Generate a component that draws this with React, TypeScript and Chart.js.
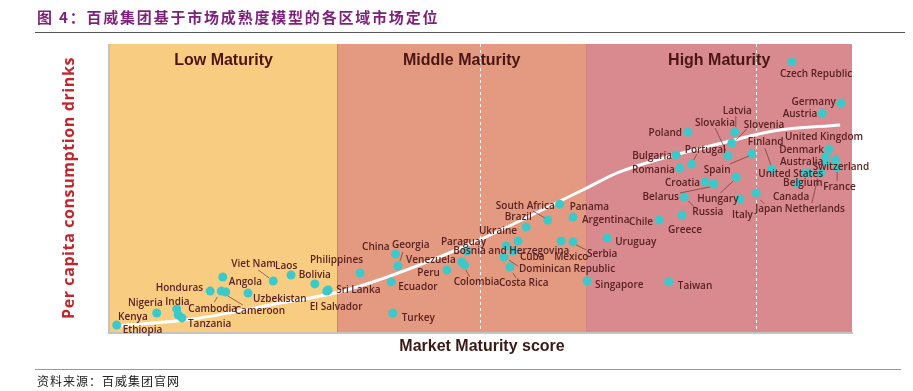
import React, { useEffect, useRef } from "react";
import { Chart, registerables } from "chart.js";

Chart.register(...registerables);

// ---------- data ----------
const countries = [
  "Ethiopia", "Kenya", "Nigeria", "India", "Tanzania", "Honduras", "Cambodia", "Cameroon",
  "Angola", "Uzbekistan", "Viet Nam", "Laos", "Bolivia", "Sri Lanka", "El Salvador",
  "Philippines", "China", "Georgia", "Ecuador", "Turkey", "Peru", "Venezuela", "Colombia",
  "Paraguay", "Bosnia and Herzegovina", "Cuba", "Dominican Republic", "Costa Rica", "Ukraine",
  "Brazil", "South Africa", "Panama", "Argentina", "Mexico", "Serbia",
  "Uruguay", "Singapore", "Taiwan", "Chile", "Greece", "Russia", "Croatia", "Belarus",
  "Hungary", "Italy", "Spain", "Finland", "Japan", "United States", "Belgium", "Canada",
  "Netherlands", "France", "Switzerland", "Australia", "Denmark", "United Kingdom",
  "Germany", "Austria", "Czech Republic", "Latvia", "Slovenia", "Slovakia", "Poland",
  "Portugal", "Bulgaria", "Romania",
];

const maturityScore = [
  0.9, 6.3, 9.0, 9.2, 9.7, 13.5, 15.0, 15.6,
  15.2, 18.6, 22.0, 24.4, 27.6, 29.4, 29.2,
  33.7, 38.5, 38.8, 37.9, 38.1, 45.4, 47.4, 47.8,
  48.1, 53.4, 54.3, 53.1, 53.9, 55.0,
  56.1, 59.0, 60.6, 62.4, 60.8, 62.4,
  67.0, 64.3, 75.3, 74.0, 77.1, 77.4, 80.2, 81.4,
  84.4, 84.9, 86.5, 89.2, 87.1, 93.7, 92.6, 94.2,
  95.8, 98.0, 97.8, 96.4, 96.5, 96.9,
  98.5, 96.0, 91.9, 84.2, 83.8, 83.3, 77.9,
  78.4, 76.3, 76.8,
];

const perCapitaDrinks = [
  2.4, 6.6, 8.0, 5.9, 4.9, 14.2, 14.2, 13.9,
  19.1, 13.5, 17.7, 19.8, 16.7, 14.6, 14.2,
  20.5, 27.1, 22.9, 17.4, 6.6, 21.5, 24.3, 23.3,
  28.1, 29.9, 28.1, 26.0, 22.6, 31.6,
  36.5, 38.9, 44.4, 39.9, 31.6, 31.3,
  32.6, 17.7, 17.4, 38.9, 40.6, 46.9, 52.1, 51.4,
  53.8, 46.2, 61.8, 56.6, 48.3, 55.2, 51.7, 55.2,
  55.2, 57.3, 59.7, 59.0, 60.8, 63.5,
  79.5, 76.0, 93.8, 69.4, 65.6, 61.1, 69.4,
  58.3, 61.5, 56.9,
];

const trendScore = [0.7, 11.2, 21.6, 31.9, 47.6, 63.7, 68.7, 83.6, 89.4, 98.4];
const trendDrinks = [2.1, 4.5, 9.4, 14.6, 29.5, 49.3, 55.6, 66.3, 69.8, 71.9];

const zoneNames = ["Low Maturity", "Middle Maturity", "High Maturity"];
const zoneEdges = [0, 30.6, 64.2, 100];
const dashedScores = [49.9, 87.1];

// ---------- styles / layout ----------
const zoneColors = ["#F8CD82", "#E49A80", "#D88A8F"];
const dotColor = "#3CC9C9";
const labelColor = "#5A2122";

type Lay = [number, number, CanvasTextAlign, number[]?];
const labelLayout: Record<string, Lay> = {
  "Ethiopia": [6, 5, "left"],
  "Kenya": [-9, 4, "right"],
  "Nigeria": [-14, -6, "right"],
  "India": [-13, -13, "left"],
  "Tanzania": [6, 6, "left"],
  "Honduras": [-7, -3, "right"],
  "Cambodia": [-33, 18, "left", [-4, 6, -7, 11]],
  "Cameroon": [9, 19, "left", [2, 4, 17, 13]],
  "Angola": [6, 5, "left"],
  "Uzbekistan": [5, 6, "left"],
  "Viet Nam": [-42, -17, "left", [-15, -11, -4, -3]],
  "Laos": [-16, -9, "left"],
  "Bolivia": [0, -9, "center"],
  "Sri Lanka": [8, 0, "left"],
  "El Salvador": [-17, 16, "left"],
  "Philippines": [3, -13, "right"],
  "China": [-6, -7, "right"],
  "Georgia": [-6, -21, "left", [5, -14, 2, -5]],
  "Ecuador": [7, 5, "left"],
  "Turkey": [9, 5, "left"],
  "Peru": [-7, 3, "right"],
  "Venezuela": [-6, -2, "right"],
  "Colombia": [-11, 17, "left", [1, 5, 5, 12]],
  "Paraguay": [-26, -9, "left"],
  "Bosnia and Herzegovina": [-53, 5, "left"],
  "Cuba": [7, 6, "left"],
  "Dominican Republic": [15, 12, "left", [5, 3, 14, 9]],
  "Costa Rica": [-11, 16, "left", [3, 6, 6, 11]],
  "Ukraine": [-1, -10, "right"],
  "Brazil": [-8, -10, "center"],
  "South Africa": [-52, -14, "left", [-15, -9, -3, -2]],
  "Panama": [10, 3, "left"],
  "Argentina": [9, 3, "left"],
  "Mexico": [-7, 16, "left"],
  "Serbia": [14, 12, "left", [3, 3, 13, 8]],
  "Uruguay": [8, 4, "left"],
  "Singapore": [8, 4, "left"],
  "Taiwan": [9, 4, "left"],
  "Chile": [-6, 2, "right"],
  "Greece": [-14, 15, "left"],
  "Russia": [8, 15, "left", [4, 4, 10, 10]],
  "Croatia": [-5, 1, "right"],
  "Belarus": [-35, 13, "right", [-34, 9, -4, 3]],
  "Hungary": [-39, 22, "left", [-16, 16, -3, 4]],
  "Italy": [-8, 16, "left"],
  "Spain": [-48, 16, "left", [-22, 10, -3, 2]],
  "Finland": [-24, -27, "left", [-7, -21, -1, -4]],
  "Japan": [-1, 16, "left", [4, 7, 8, 11]],
  "United States": [-47, 1, "left"],
  "Belgium": [-14, 0, "left"],
  "Canada": [-36, 24, "left"],
  "Netherlands": [-36, 36, "left", [-3, 5, -9, 30]],
  "France": [-14, 20, "left", [0, 5, 0, 14]],
  "Switzerland": [-23, 7, "left"],
  "Australia": [-2, 0, "right"],
  "Denmark": [-2, -7, "right"],
  "United Kingdom": [-44, -12, "left"],
  "Germany": [-5, -1, "right"],
  "Austria": [-5, 1, "right"],
  "Czech Republic": [-12, 12, "left"],
  "Latvia": [-12, -21, "left", [1, -16, 1, -5]],
  "Slovenia": [12, -18, "left", [15, -14, 4, -3]],
  "Slovakia": [-33, -33, "left", [-13, -28, -2, -5]],
  "Poland": [-6, 1, "right"],
  "Portugal": [-7, -14, "left", [5, -10, 2, -4]],
  "Bulgaria": [-4, 1, "right"],
  "Romania": [-5, 2, "right"],
};

const zonesPlugin = {
  id: "zones",
  beforeDatasetsDraw(chart: any) {
    const { ctx, chartArea: a, scales } = chart;
    const xs = scales.x;
    ctx.save();
    zoneNames.forEach((_, i) => {
      const x0 = xs.getPixelForValue(zoneEdges[i]);
      const x1 = xs.getPixelForValue(zoneEdges[i + 1]);
      ctx.fillStyle = zoneColors[i];
      ctx.fillRect(x0, a.top, x1 - x0, a.bottom - a.top);
    });
    // zone boundaries
    ctx.strokeStyle = "rgba(200,100,100,0.55)";
    ctx.lineWidth = 1;
    for (let i = 1; i < zoneEdges.length - 1; i++) {
      const xp = Math.round(xs.getPixelForValue(zoneEdges[i])) + 0.5;
      ctx.beginPath();
      ctx.moveTo(xp, a.top);
      ctx.lineTo(xp, a.bottom);
      ctx.stroke();
    }
    // dashed dividers
    ctx.setLineDash([3, 3]);
    ctx.strokeStyle = "rgba(255,255,255,0.9)";
    dashedScores.forEach((v) => {
      const xp = Math.round(xs.getPixelForValue(v)) + 0.5;
      ctx.beginPath();
      ctx.moveTo(xp, a.top);
      ctx.lineTo(xp, a.bottom);
      ctx.stroke();
    });
    ctx.setLineDash([]);
    // border (left & bottom)
    ctx.strokeStyle = "#C4C4C4";
    ctx.lineWidth = 2;
    ctx.beginPath();
    ctx.moveTo(a.left - 1, a.top);
    ctx.lineTo(a.left - 1, a.bottom + 1);
    ctx.lineTo(a.right + 1, a.bottom + 1);
    ctx.stroke();
    // zone titles
    ctx.fillStyle = "#4A1512";
    ctx.font = "bold 16px 'Liberation Sans', Arial, sans-serif";
    ctx.textAlign = "center";
    ctx.textBaseline = "middle";
    zoneNames.forEach((n, i) => {
      const x0 = xs.getPixelForValue(zoneEdges[i]);
      const x1 = xs.getPixelForValue(zoneEdges[i + 1]);
      ctx.fillText(n, (x0 + x1) / 2, a.top + 17);
    });
    ctx.restore();
  },
};

const labelsPlugin = {
  id: "countryLabels",
  afterDatasetsDraw(chart: any) {
    const { ctx } = chart;
    const meta = chart.getDatasetMeta(0);
    ctx.save();
    ctx.strokeStyle = "#6B3A32";
    ctx.lineWidth = 0.7;
    meta.data.forEach((pt: any, i: number) => {
      const lay = labelLayout[countries[i]];
      if (!lay || !lay[3]) return;
      const l = lay[3];
      ctx.beginPath();
      ctx.moveTo(pt.x + l[0], pt.y + l[1]);
      ctx.lineTo(pt.x + l[2], pt.y + l[3]);
      ctx.stroke();
    });
    ctx.fillStyle = labelColor;
    ctx.font = "600 10px 'Open Sans', sans-serif";
    ctx.textBaseline = "middle";
    meta.data.forEach((pt: any, i: number) => {
      const lay = labelLayout[countries[i]] || [6, 0, "left"];
      ctx.textAlign = lay[2];
      ctx.fillText(countries[i], pt.x + lay[0], pt.y + lay[1]);
    });
    ctx.restore();
  },
};

export default function App() {
  const ref = useRef<HTMLCanvasElement>(null);

  useEffect(() => {
    if (!ref.current) return;
    const chart = new Chart(ref.current, {
      type: "scatter",
      data: {
        datasets: [
          {
            label: "Markets",
            data: countries.map((_, i) => ({ x: maturityScore[i], y: perCapitaDrinks[i] })),
            backgroundColor: dotColor,
            borderWidth: 0,
            pointRadius: 4.5,
            order: 0,
          },
          {
            label: "Trend",
            data: trendScore.map((v, i) => ({ x: v, y: trendDrinks[i] })),
            showLine: true,
            borderColor: "#FFFFFF",
            borderWidth: 3,
            pointRadius: 0,
            cubicInterpolationMode: "monotone",
            order: 1,
          } as any,
        ],
      },
      options: {
        responsive: false,
        animation: false,
        devicePixelRatio: 1,
        layout: { padding: { left: 110, right: 61, top: 44, bottom: 59 } },
        plugins: { legend: { display: false }, tooltip: { enabled: false } },
        scales: {
          x: { type: "linear", min: 0, max: 100, display: false },
          y: { type: "linear", min: 0, max: 100, display: false },
        },
      },
      plugins: [zonesPlugin, labelsPlugin],
    });
    return () => chart.destroy();
  }, []);

  return (
    <div style={{ position: "fixed", left: 0, top: 0, width: 913, height: 391, background: "#fff", overflow: "hidden" }}>
      <canvas ref={ref} width={913} height={391} style={{ position: "absolute", left: 0, top: 0 }} />
      <div
        style={{
          position: "absolute", left: 37, top: 6, fontFamily: "'Noto Sans CJK SC', sans-serif",
          fontWeight: 700, fontSize: 15, letterSpacing: 1.8, color: "#7D1F7B", whiteSpace: "nowrap", lineHeight: "22px",
        }}
      >
        图 4：百威集团基于市场成熟度模型的各区域市场定位
      </div>
      <div style={{ position: "absolute", left: 35, top: 32, width: 870, borderTop: "1.5px solid #555" }} />
      <div
        style={{
          position: "absolute", left: 68 - 150, top: 188 - 11, width: 300, height: 22, lineHeight: "22px",
          textAlign: "center", transform: "rotate(-90deg)", fontFamily: "'Open Sans', sans-serif",
          fontWeight: 700, fontSize: 16, letterSpacing: 0.6, color: "#C0272D", whiteSpace: "nowrap",
        }}
      >
        Per capita consumption drinks
      </div>
      <div
        style={{
          position: "absolute", left: 482 - 150, top: 335, width: 300, textAlign: "center", lineHeight: "22px",
          fontFamily: "'Liberation Sans', Arial, sans-serif", fontWeight: 700, fontSize: 16, color: "#3B1A14",
        }}
      >
        Market Maturity score
      </div>
      <div style={{ position: "absolute", left: 35, top: 369, width: 866, borderTop: "1.5px solid #999" }} />
      <div
        style={{
          position: "absolute", left: 37, top: 373, fontFamily: "'Noto Sans CJK SC', sans-serif",
          fontSize: 12, color: "#222", lineHeight: "16px", letterSpacing: 1,
        }}
      >
        资料来源：百威集团官网
      </div>
    </div>
  );
}
